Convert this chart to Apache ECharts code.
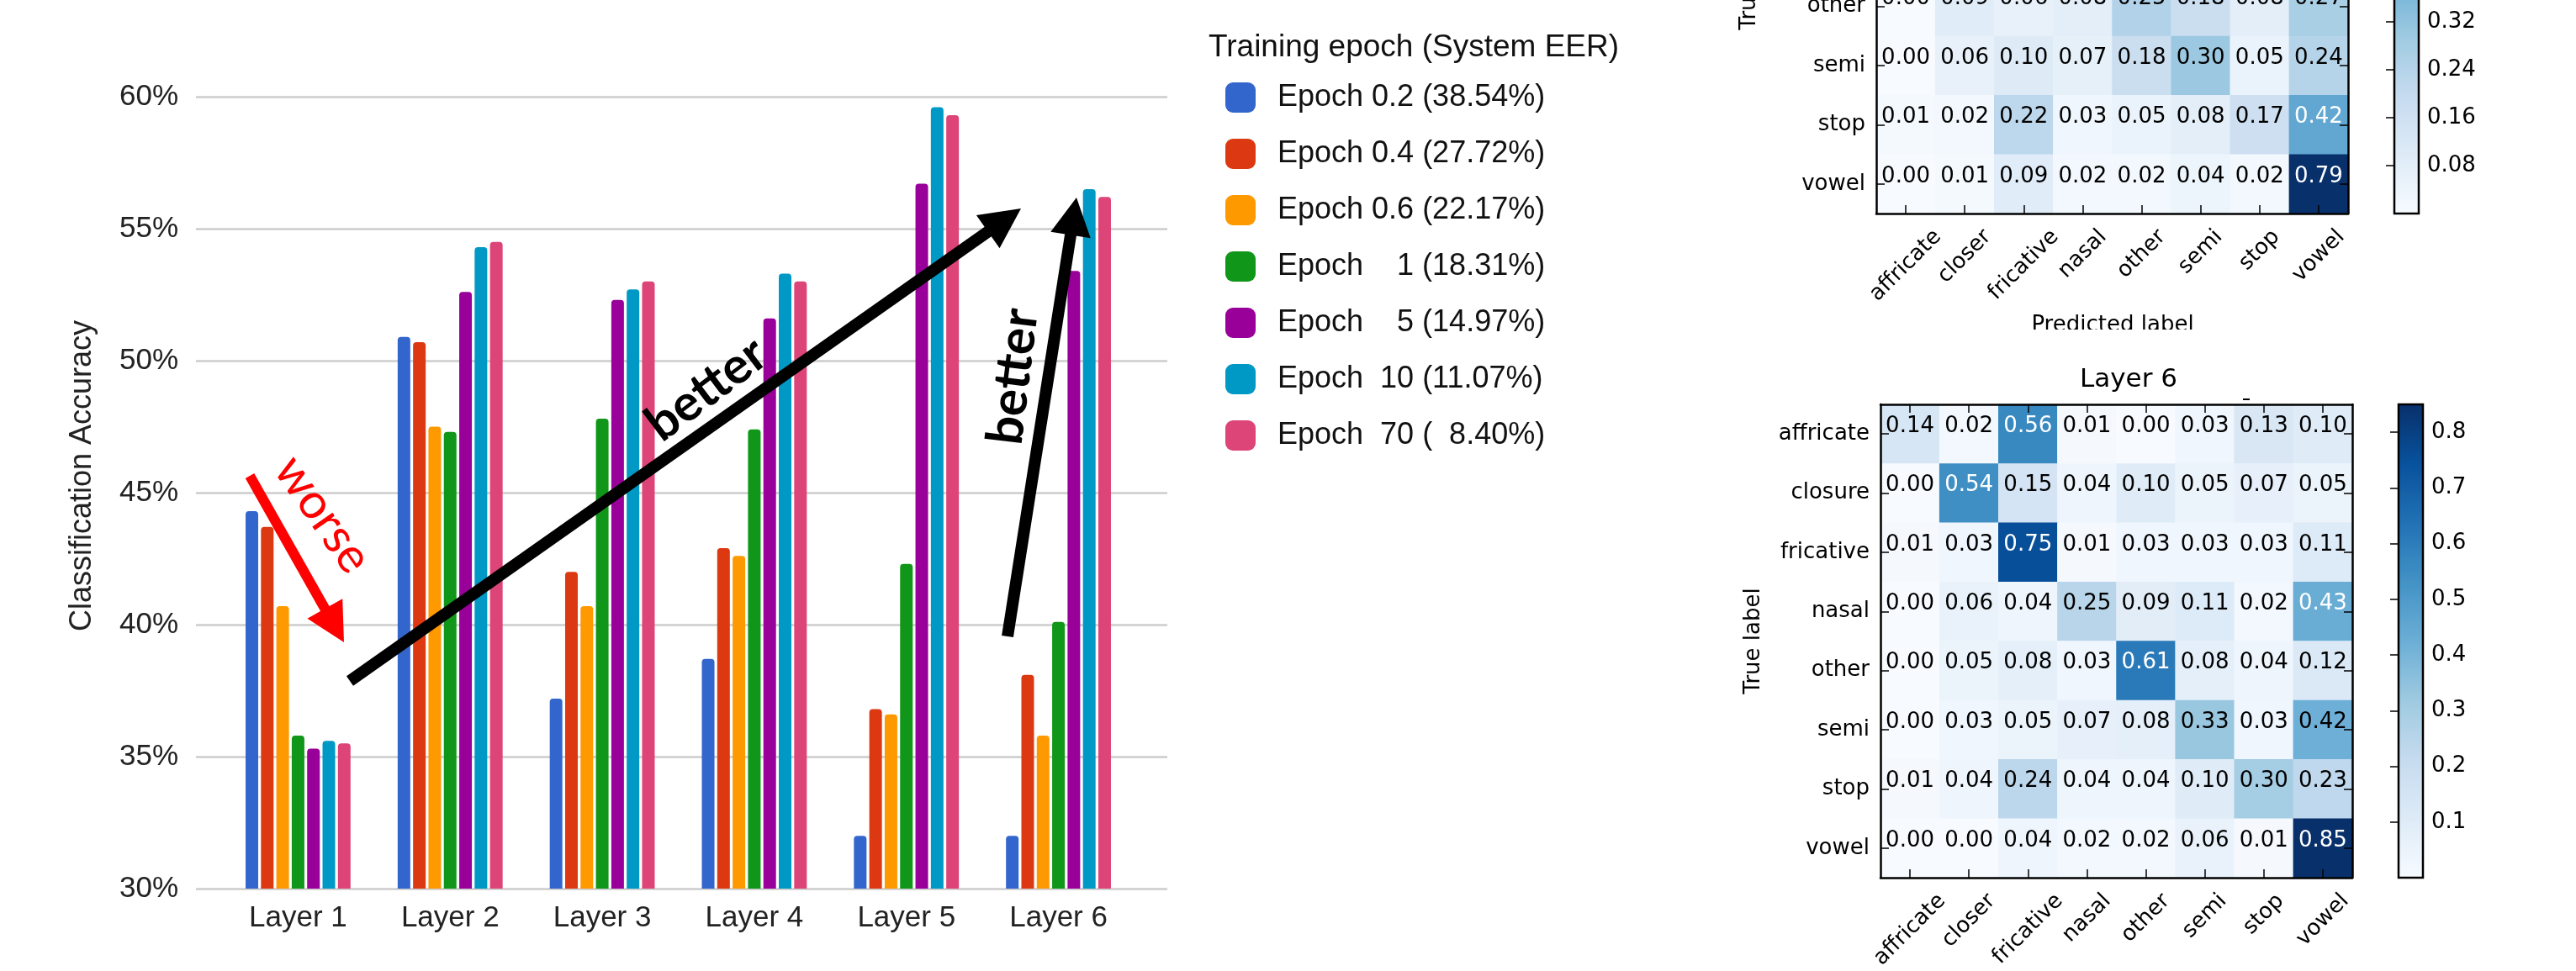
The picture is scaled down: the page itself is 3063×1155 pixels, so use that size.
<!DOCTYPE html>
<html>
<head>
<meta charset="utf-8">
<script src="https://cdn.jsdelivr.net/npm/echarts@6/dist/echarts.min.js"></script>
<style>
  html, body { margin: 0; padding: 0; background: #ffffff; }
  #main { width: 3063px; height: 1155px; }
</style>
</head>
<body>
<div id="main"></div>
<script>
// ---------- probing accuracy per layer (percent) ----------
const layers = ['Layer 1', 'Layer 2', 'Layer 3', 'Layer 4', 'Layer 5', 'Layer 6'];
const seriesNames = [
  'Epoch 0.2 (38.54%)',
  'Epoch 0.4 (27.72%)',
  'Epoch 0.6 (22.17%)',
  'Epoch    1 (18.31%)',
  'Epoch    5 (14.97%)',
  'Epoch  10 (11.07%)',
  'Epoch  70 (  8.40%)'
];
const epoch02 = [44.3, 50.9, 37.2, 38.7, 32.0, 32.0];
const epoch04 = [43.7, 50.7, 42.0, 42.9, 36.8, 38.1];
const epoch06 = [40.7, 47.5, 40.7, 42.6, 36.6, 35.8];
const epoch1  = [35.8, 47.3, 47.8, 47.4, 42.3, 40.1];
const epoch5  = [35.3, 52.6, 52.3, 51.6, 56.7, 53.4];
const epoch10 = [35.6, 54.3, 52.7, 53.3, 59.6, 56.5];
const epoch70 = [35.5, 54.5, 53.0, 53.0, 59.3, 56.2];
const accuracyMin = 30, accuracyMax = 60, accuracyStep = 5;

// ---------- confusion matrices ----------
const predictedLabels = ['affricate', 'closer', 'fricative', 'nasal', 'other', 'semi', 'stop', 'vowel'];
const trueLabels = ['affricate', 'closure', 'fricative', 'nasal', 'other', 'semi', 'stop', 'vowel'];

// upper panel: rows other .. vowel
const upperRows = ['other', 'semi', 'stop', 'vowel'];
const upperOther = [0.00, 0.09, 0.06, 0.08, 0.25, 0.18, 0.08, 0.27];
const upperSemi  = [0.00, 0.06, 0.10, 0.07, 0.18, 0.30, 0.05, 0.24];
const upperStop  = [0.01, 0.02, 0.22, 0.03, 0.05, 0.08, 0.17, 0.42];
const upperVowel = [0.00, 0.01, 0.09, 0.02, 0.02, 0.04, 0.02, 0.79];
const upperTicks = [0.08, 0.16, 0.24, 0.32];

// Layer 6 panel
const l6Affricate = [0.14, 0.02, 0.56, 0.01, 0.00, 0.03, 0.13, 0.10];
const l6Closure   = [0.00, 0.54, 0.15, 0.04, 0.10, 0.05, 0.07, 0.05];
const l6Fricative = [0.01, 0.03, 0.75, 0.01, 0.03, 0.03, 0.03, 0.11];
const l6Nasal     = [0.00, 0.06, 0.04, 0.25, 0.09, 0.11, 0.02, 0.43];
const l6Other     = [0.00, 0.05, 0.08, 0.03, 0.61, 0.08, 0.04, 0.12];
const l6Semi      = [0.00, 0.03, 0.05, 0.07, 0.08, 0.33, 0.03, 0.42];
const l6Stop      = [0.01, 0.04, 0.24, 0.04, 0.04, 0.10, 0.30, 0.23];
const l6Vowel     = [0.00, 0.00, 0.04, 0.02, 0.02, 0.06, 0.01, 0.85];
const l6Ticks = [0.1, 0.2, 0.3, 0.4, 0.5, 0.6, 0.7, 0.8];

// ---------- styling ----------
const barColors = ['#3366cc', '#dc3912', '#ff9900', '#109618', '#990099', '#0099c6', '#dd4477'];
const blues = ['#f7fbff', '#deebf7', '#c6dbef', '#9ecae1', '#6baed6', '#4292c6', '#2171b5', '#08519c', '#08306b'];
const SANS = 'Liberation Sans';
const DJV = 'DejaVu Sans';
const HEAT_SIZE = 26;

const upperMatrix = [upperOther, upperSemi, upperStop, upperVowel];
const l6Matrix = [l6Affricate, l6Closure, l6Fricative, l6Nasal, l6Other, l6Semi, l6Stop, l6Vowel];
const upperMax = Math.max(...upperMatrix.flat());
const l6Max = Math.max(...l6Matrix.flat());

// panel geometry
const barGridTop = 115, barGridHeight = 942;
const upperHeat = { left: 2231, top: -309, width: 561, height: 563 };
const upperBar  = { left: 2847, top: -309, width: 29, height: 563 };
const lowerHeat = { left: 2236, top: 481, width: 561, height: 563 };
const lowerBar  = { left: 2852, top: 481, width: 29, height: 563 };

function cells(matrix, rowNames, vmax) {
  const out = [];
  matrix.forEach((row, r) => {
    const y = trueLabels.indexOf(rowNames[r]);
    row.forEach((v, c) => {
      out.push({ value: [c, y, v], label: { color: v > vmax / 2 ? '#ffffff' : '#000000' } });
    });
  });
  return out;
}

function gradient() {
  return {
    type: 'linear', x: 0, y: 1, x2: 0, y2: 0,
    colorStops: blues.map((c, i) => ({ offset: i / (blues.length - 1), color: c }))
  };
}

const frame = { show: true, onZero: false, lineStyle: { color: '#000', width: 2.5 } };
const inTick = { show: true, inside: true, length: 10, alignWithLabel: true, lineStyle: { color: '#000', width: 1.5 } };

function heatAxes(gridIndex, withRowLabels) {
  const xs = [
    { type: 'category', gridIndex, data: predictedLabels, position: 'bottom', z: 10,
      axisLine: frame, axisTick: inTick, axisLabel: { show: false }, splitLine: { show: false } },
    { type: 'category', gridIndex, data: predictedLabels, position: 'top', z: 10,
      axisLine: frame, axisTick: inTick, axisLabel: { show: false }, splitLine: { show: false } }
  ];
  const ys = [
    { type: 'category', gridIndex, data: trueLabels, inverse: true, position: 'left', z: 10,
      axisLine: frame, axisTick: inTick,
      axisLabel: { show: withRowLabels, margin: 13, color: '#000', fontSize: HEAT_SIZE, fontFamily: DJV },
      splitLine: { show: false } },
    { type: 'category', gridIndex, data: trueLabels, inverse: true, position: 'right', z: 10,
      axisLine: frame, axisTick: inTick, axisLabel: { show: false }, splitLine: { show: false } }
  ];
  return { xs, ys };
}

function colorbarAxes(gridIndex, vmax, step, digits) {
  return {
    x: { type: 'value', gridIndex, min: 0, max: 1, show: false },
    y: { type: 'value', gridIndex, min: 0, max: vmax, interval: step, position: 'right', z: 10,
      axisLine: { show: false },
      axisTick: { show: true, inside: true, length: 10, lineStyle: { color: '#000', width: 1.5 } },
      splitLine: { show: false },
      axisLabel: { margin: 10, color: '#000', fontSize: HEAT_SIZE, fontFamily: DJV,
        showMinLabel: false, showMaxLabel: false, formatter: v => v.toFixed(digits) } }
  };
}

const upperAxes = heatAxes(2, true);
const lowerAxes = heatAxes(4, true);
const upperCb = colorbarAxes(3, upperMax, upperTicks[1] - upperTicks[0], 2);
const lowerCb = colorbarAxes(5, l6Max, l6Ticks[1] - l6Ticks[0], 1);

const epochValues = [epoch02, epoch04, epoch06, epoch1, epoch5, epoch10, epoch70];
const barSeries = seriesNames.map((name, i) => ({
  type: 'bar', name, xAxisIndex: 1, yAxisIndex: 1,
  data: epochValues[i], barWidth: 15, barGap: '22%',
  itemStyle: { color: barColors[i], borderRadius: [4, 4, 0, 0] },
  emphasis: { disabled: true }
}));

// cell values sit with their baseline on the cell centre
const heatLabel = { show: true, fontSize: HEAT_SIZE, fontFamily: DJV, offset: [0, -9],
  formatter: p => p.value[2].toFixed(2) };

const option = {
  backgroundColor: '#ffffff',
  animation: false,
  grid: [
    { left: 233, top: barGridTop, width: 1155, height: barGridHeight, outerBoundsMode: 'none' },
    { left: 264, top: barGridTop, width: 1085, height: barGridHeight, outerBoundsMode: 'none' },
    Object.assign({ outerBoundsMode: 'none' }, upperHeat),
    Object.assign({ outerBoundsMode: 'none', show: true, backgroundColor: gradient(), borderColor: '#000', borderWidth: 2.5 }, upperBar),
    Object.assign({ outerBoundsMode: 'none' }, lowerHeat),
    Object.assign({ outerBoundsMode: 'none', show: true, backgroundColor: gradient(), borderColor: '#000', borderWidth: 2.5 }, lowerBar)
  ],
  xAxis: [
    { type: 'value', gridIndex: 0, min: 0, max: 1, show: false },
    { type: 'category', gridIndex: 1, data: layers,
      axisLine: { show: false }, axisTick: { show: false },
      axisLabel: { margin: 18, color: '#222', fontSize: 35, fontFamily: SANS } },
    upperAxes.xs[0], upperAxes.xs[1], upperCb.x,
    lowerAxes.xs[0], lowerAxes.xs[1], lowerCb.x
  ],
  yAxis: [
    { type: 'value', gridIndex: 0, min: accuracyMin, max: accuracyMax, interval: accuracyStep,
      axisLine: { show: false }, axisTick: { show: false },
      splitLine: { lineStyle: { color: '#cccccc', width: 2.5 } },
      axisLabel: { margin: 21, color: '#222', fontSize: 35, fontFamily: SANS, formatter: '{value}%' } },
    { type: 'value', gridIndex: 1, min: accuracyMin, max: accuracyMax, show: false },
    upperAxes.ys[0], upperAxes.ys[1], upperCb.y,
    lowerAxes.ys[0], lowerAxes.ys[1], lowerCb.y
  ],
  legend: {
    orient: 'vertical', left: 1457, top: 98, padding: 0,
    itemWidth: 36, itemHeight: 36, itemGap: 31, icon: 'roundRect',
    selectedMode: false, data: seriesNames,
    textStyle: { fontSize: 36, color: '#111', fontFamily: SANS, padding: [0, 0, 0, 21] }
  },
  visualMap: [
    { type: 'continuous', show: false, seriesIndex: 7, dimension: 2, min: 0, max: upperMax, inRange: { color: blues } },
    { type: 'continuous', show: false, seriesIndex: 8, dimension: 2, min: 0, max: l6Max, inRange: { color: blues } }
  ],
  series: barSeries.concat([
    { type: 'heatmap', xAxisIndex: 2, yAxisIndex: 2, data: cells(upperMatrix, upperRows, upperMax),
      label: heatLabel, emphasis: { disabled: true } },
    { type: 'heatmap', xAxisIndex: 5, yAxisIndex: 5, data: cells(l6Matrix, trueLabels, l6Max),
      label: heatLabel, emphasis: { disabled: true } }
  ])
};

const chart = echarts.init(document.getElementById('main'), null, { renderer: 'canvas' });
chart.setOption(option);

// ---------- annotations ----------
function arrow(tail, tip, shaft, headLen, headW, color) {
  const dx = tip[0] - tail[0], dy = tip[1] - tail[1];
  const L = Math.hypot(dx, dy), ux = dx / L, uy = dy / L, px = -uy, py = ux;
  const bx = tip[0] - ux * headLen, by = tip[1] - uy * headLen;
  return [
    { type: 'line', z: 50, shape: { x1: tail[0], y1: tail[1], x2: bx + ux * 4, y2: by + uy * 4 },
      style: { stroke: color, lineWidth: shaft } },
    { type: 'polygon', z: 50,
      shape: { points: [tip, [bx + px * headW / 2, by + py * headW / 2], [bx - px * headW / 2, by - py * headW / 2]] },
      style: { fill: color } }
  ];
}

function text(x, y, str, size, family, opts) {
  opts = opts || {};
  return {
    type: 'text', x, y, z: opts.z || 50, rotation: opts.rotation || 0,
    style: { text: str, fill: opts.color || '#000', fontSize: size, fontFamily: family,
      fontWeight: opts.weight || 'normal', align: opts.align || 'center', verticalAlign: 'middle' }
  };
}

function slantedLabels(xAxisIndex, axisBottom) {
  const ctx = document.createElement('canvas').getContext('2d');
  ctx.font = HEAT_SIZE + 'px "DejaVu Sans"';
  const lineH = HEAT_SIZE * 1.17;
  return predictedLabels.map((name, i) => {
    const x = chart.convertToPixel({ xAxisIndex }, i);
    const w = ctx.measureText(name).width;
    const half = Math.SQRT1_2 * (w + lineH) / 2;
    return text(x, axisBottom + 13 + half, name, HEAT_SIZE, DJV, { rotation: Math.PI / 4 });
  });
}

const deg = Math.PI / 180;
const graphics = [].concat(
  text(98, 566, 'Classification Accuracy', 36, SANS, { rotation: 90 * deg, color: '#222' }),
  text(1437, 57, 'Training epoch (System EER)', 37, SANS, { align: 'left', color: '#111' }),
  arrow([297, 566], [409, 764], 12, 46, 48, '#ff0000'),
  text(384, 612, 'worse', 58, 'Lato', { rotation: -55 * deg, color: '#ff0000' }),
  arrow([416, 810], [1214, 248], 14, 48, 48, '#000'),
  text(840, 463, 'better', 60, 'Lato', { rotation: 37 * deg, weight: 'bold' }),
  arrow([1198, 757], [1280, 235], 14, 45, 48, '#000'),
  text(1205, 448, 'better', 60, 'Lato', { rotation: 83 * deg, weight: 'bold' }),
  // upper panel captions
  text(2080, upperHeat.top + upperHeat.height / 2, 'True label', HEAT_SIZE, DJV, { rotation: 90 * deg }),
  text(2512, 387, 'Predicted label', HEAT_SIZE, DJV),
  { type: 'rect', z: 60, shape: { x: 2380, y: 392, width: 280, height: 30 }, style: { fill: '#ffffff' } },
  slantedLabels(2, upperHeat.top + upperHeat.height),
  // lower panel captions
  text(2531, 452, 'Layer 6', 31, DJV),
  { type: 'line', z: 50, shape: { x1: 2667, y1: 475, x2: 2675, y2: 475 }, style: { stroke: '#000', lineWidth: 2 } },
  text(2085, lowerHeat.top + lowerHeat.height / 2, 'True label', HEAT_SIZE, DJV, { rotation: 90 * deg }),
  slantedLabels(5, lowerHeat.top + lowerHeat.height)
);
chart.setOption({ graphic: graphics });
</script>
</body>
</html>
